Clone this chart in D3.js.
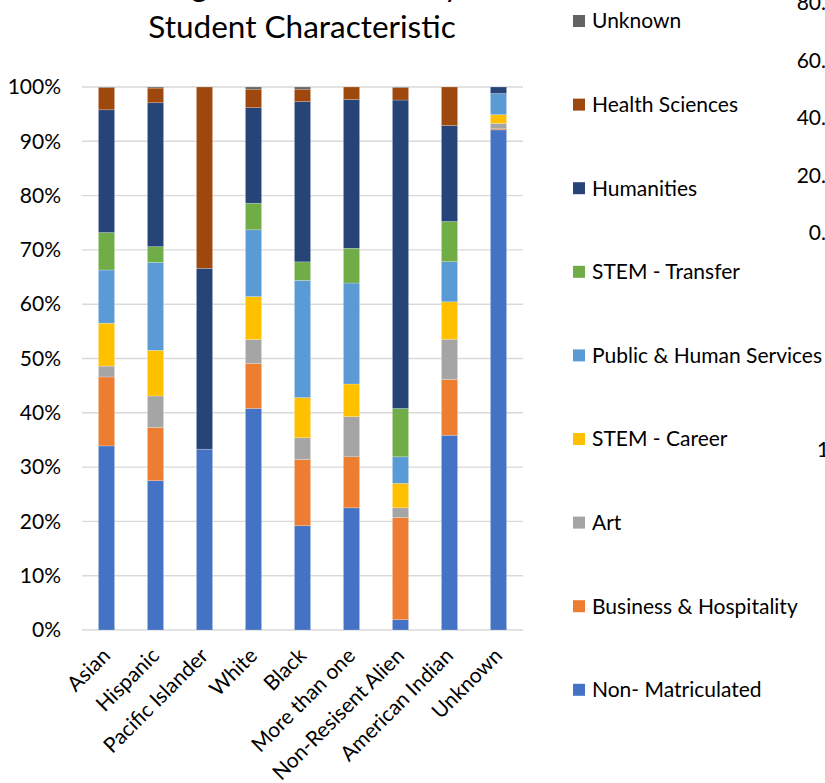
<!DOCTYPE html>
<html>
<head>
<meta charset="utf-8">
<script src="https://cdn.jsdelivr.net/npm/d3@7/dist/d3.min.js"></script>
<style>
  html, body { margin: 0; padding: 0; background: #fff; overflow: hidden; }
  svg { display: block; font-family: Lato, "Open Sans", sans-serif; }
</style>
</head>
<body>
<script>
// ---- data ----
const categories = ["Asian", "Hispanic", "Pacific Islander", "White", "Black", "More than one", "Non-Resisent Alien", "American Indian", "Unknown"];
const nonMatriculated = [33.9, 27.5, 33.3, 40.8, 19.2, 22.5, 1.9, 35.9, 92.1];
const businessHospitality = [12.7, 9.8, 0, 8.3, 12.2, 9.4, 18.8, 10.3, 0.2];
const art = [2.0, 5.8, 0, 4.4, 4.0, 7.4, 1.8, 7.4, 1.0];
const stemCareer = [7.9, 8.4, 0, 7.9, 7.4, 6.0, 4.5, 6.9, 1.6];
const publicHuman = [9.8, 16.2, 0, 12.3, 21.6, 18.6, 4.9, 7.4, 3.9];
const stemTransfer = [6.9, 2.9, 0, 4.9, 3.4, 6.4, 8.9, 7.4, 0];
const humanities = [22.6, 26.5, 33.3, 17.6, 29.5, 27.4, 56.8, 17.7, 1.2];
const healthSciences = [4.1, 2.7, 33.4, 3.4, 2.3, 2.3, 2.3, 7.1, 0];
const unknownArea = [0.1, 0.2, 0, 0.4, 0.4, 0, 0.1, 0, 0];

const seriesNames = ["Non- Matriculated", "Business & Hospitality", "Art", "STEM - Career", "Public & Human Services", "STEM - Transfer", "Humanities", "Health Sciences", "Unknown"];
const seriesValues = [nonMatriculated, businessHospitality, art, stemCareer, publicHuman, stemTransfer, humanities, healthSciences, unknownArea];
const seriesColors = ["#4472C4", "#ED7D31", "#A5A5A5", "#FFC000", "#5B9BD5", "#70AD47", "#264478", "#9E480E", "#636363"];
const yTicks = [0, 0.1, 0.2, 0.3, 0.4, 0.5, 0.6, 0.7, 0.8, 0.9, 1.0];
const titleLines = ["Program Enrollment by", "Student Characteristic"];
// fragments of a neighbouring chart cut off at the right edge
const sideTicks = [80, 60, 40, 20, 0];

// ---- layout ----
const W = 825, H = 783;
const FS = 21;
const svg = d3.select("body").append("svg").attr("width", W).attr("height", H);

const rows = categories.map((c, i) => {
  const r = { cat: c };
  seriesNames.forEach((s, k) => r[s] = seriesValues[k][i]);
  return r;
});
const stacked = d3.stack().keys(seriesNames).offset(d3.stackOffsetExpand)(rows);

const x = d3.scaleBand().domain(categories).range([82, 523]).paddingInner(0.67).paddingOuter(0.335);
const y = d3.scaleLinear().domain([0, 1]).range([630, 87]);
const color = d3.scaleOrdinal().domain(seriesNames).range(seriesColors);

// gridlines
svg.append("g").selectAll("line").data(yTicks).join("line")
  .attr("x1", 82).attr("x2", 523)
  .attr("y1", d => y(d)).attr("y2", d => y(d))
  .attr("stroke", "#D9D9D9").attr("stroke-width", 1.4);

// y axis labels
const yAxis = d3.axisLeft(y).tickValues(yTicks).tickFormat(d3.format(".0%")).tickSize(0).tickPadding(0);
const yg = svg.append("g").attr("transform", "translate(61,0)").call(yAxis);
yg.select(".domain").remove();
yg.selectAll("text").attr("font-size", FS).attr("fill", "#000").attr("font-family", "Lato, sans-serif");

// bars
svg.append("g").selectAll("g").data(stacked).join("g")
  .attr("fill", d => color(d.key))
  .selectAll("rect").data(d => d).join("rect")
  .attr("x", d => x(d.data.cat))
  .attr("width", x.bandwidth())
  .attr("y", d => y(d[1]))
  .attr("height", d => Math.max(0, y(d[0]) - y(d[1])))
  .attr("stroke", "#ffffff").attr("stroke-opacity", 0.35).attr("stroke-width", 0.6);

// x axis labels
const xAxis = d3.axisBottom(x).tickSize(0).tickPadding(0);
const xg = svg.append("g").attr("transform", "translate(0,630)").call(xAxis);
xg.select(".domain").remove();
xg.selectAll("text")
  .attr("font-size", FS).attr("fill", "#000").attr("font-family", "Lato, sans-serif")
  .attr("text-anchor", "end")
  .attr("dy", 0)
  .attr("transform", "translate(5,27) rotate(-45)");

// title
svg.append("g").selectAll("text").data(titleLines).join("text")
  .attr("x", 302).attr("y", (d, i) => -3 + i * 41)
  .attr("text-anchor", "middle").attr("font-size", 31.5).attr("fill", "#000")
  .text(d => d);

// legend
const legendOrder = seriesNames.slice().reverse();
const lg = svg.append("g").selectAll("g").data(legendOrder).join("g")
  .attr("transform", (d, i) => `translate(573,${21 + i * 83.6})`);
lg.append("rect").attr("x", 0).attr("y", -6).attr("width", 12).attr("height", 12).attr("fill", d => color(d));
lg.append("text").attr("x", 19).attr("y", 0).attr("dy", "0.35em")
  .attr("font-size", FS).attr("fill", "#000").text(d => d);

// cut-off neighbouring chart axis text
const ySide = d3.scaleLinear().domain([0, 80]).range([233, 3]);
svg.append("g").selectAll("text").data(sideTicks).join("text")
  .attr("x", 855).attr("y", d => ySide(d)).attr("dy", "0.35em")
  .attr("text-anchor", "end").attr("font-size", FS).attr("fill", "#000")
  .text(d => d3.format(".1f")(d) + "%");
svg.append("text").attr("x", 817).attr("y", 450).attr("dy", "0.35em")
  .attr("font-size", FS).attr("fill", "#000").text("1");
</script>
</body>
</html>
